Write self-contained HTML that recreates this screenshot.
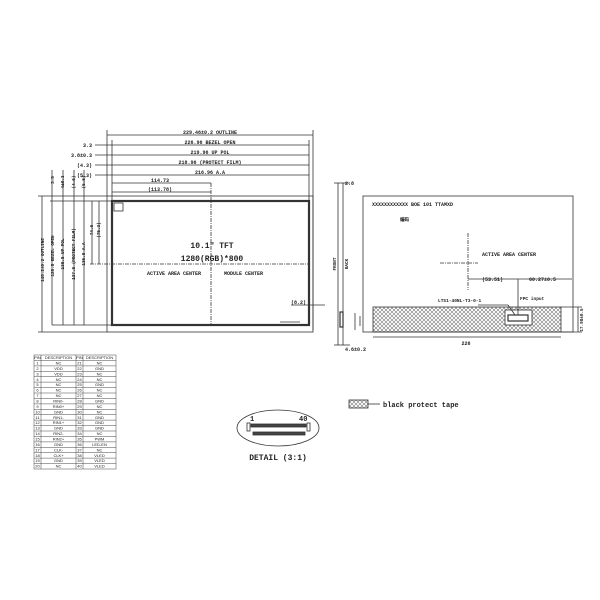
<!DOCTYPE html>
<html><head><style>html,body{margin:0;padding:0;background:#fff}svg{display:block}</style></head>
<body>
<svg width="600" height="600" viewBox="0 0 600 600" xmlns="http://www.w3.org/2000/svg" font-family="Liberation Mono, monospace" font-weight="bold" fill="#222">
<defs>
<pattern id="h" width="4" height="4" patternUnits="userSpaceOnUse"><path d="M0 4L4 0M0 0L4 4" stroke="#777" stroke-width="0.6"/></pattern>
</defs>
<g stroke="#333" fill="none" stroke-width="0.8">
<rect x="107" y="196" width="206" height="136"/>
<rect x="112" y="201" width="197" height="124" stroke-width="2.2"/>
<line x1="211" y1="183" x2="211" y2="325" stroke-dasharray="4 1 1 1"/>
<line x1="90" y1="264" x2="309" y2="264" stroke-dasharray="4 1 1 1"/>
<line x1="107" y1="135" x2="313" y2="135"/><line x1="107" y1="130" x2="107" y2="196"/><line x1="313" y1="130" x2="313" y2="330"/>
<line x1="95" y1="145" x2="309" y2="145"/><line x1="95" y1="155" x2="309" y2="155"/><line x1="95" y1="165" x2="309" y2="165"/><line x1="95" y1="175" x2="309" y2="175"/>
<line x1="112" y1="140" x2="112" y2="201"/><line x1="309" y1="140" x2="309" y2="201"/>
<line x1="112" y1="183" x2="211" y2="183"/><line x1="112" y1="192" x2="211" y2="192"/>
<line x1="38" y1="196" x2="107" y2="196"/><line x1="38" y1="332" x2="107" y2="332"/>
<line x1="42" y1="196" x2="42" y2="332"/><line x1="52" y1="201" x2="52" y2="325"/><line x1="63" y1="201" x2="63" y2="325"/><line x1="74" y1="201" x2="74" y2="325"/><line x1="84" y1="201" x2="84" y2="325"/>
<line x1="52" y1="170" x2="52" y2="201"/><line x1="63" y1="170" x2="63" y2="201"/><line x1="74" y1="170" x2="74" y2="201"/><line x1="84" y1="170" x2="84" y2="201"/>
<line x1="52" y1="325" x2="112" y2="325"/><line x1="50" y1="201" x2="112" y2="201"/>
<line x1="92" y1="201" x2="92" y2="264"/><line x1="99" y1="201" x2="99" y2="264"/>
<line x1="291" y1="305" x2="325" y2="305"/><line x1="280" y1="322" x2="300" y2="322"/>
<line x1="338" y1="183" x2="338" y2="345"/><line x1="343" y1="183" x2="343" y2="345"/>
<line x1="334" y1="183" x2="350" y2="183"/><line x1="334" y1="345" x2="350" y2="345"/>
<rect x="340" y="312" width="3" height="15" stroke-width="1.2"/>
<rect x="363" y="196" width="210" height="136"/>
<rect x="373" y="307" width="188" height="25" fill="url(#h)"/>
<rect x="505" y="310" width="27" height="15" fill="#fff"/>
<rect x="508" y="315" width="20" height="6" stroke-width="1.2"/>
<line x1="468" y1="233" x2="468" y2="290" stroke-dasharray="4 1 1 1"/>
<line x1="440" y1="263" x2="478" y2="263" stroke-dasharray="4 1 1 1"/>
<line x1="468" y1="279" x2="518" y2="279"/><line x1="518" y1="279" x2="572" y2="279"/><line x1="518" y1="279" x2="518" y2="315"/>
<line x1="373" y1="337" x2="561" y2="337"/>
<line x1="578" y1="307" x2="578" y2="332"/><line x1="561" y1="307" x2="582" y2="307"/><line x1="561" y1="332" x2="582" y2="332"/>
<line x1="355" y1="313" x2="355" y2="330"/><line x1="360" y1="316" x2="360" y2="326"/>
<line x1="478" y1="305" x2="508" y2="305"/><line x1="508" y1="305" x2="515" y2="315"/>
<ellipse cx="278" cy="428" rx="41" ry="18"/>
<rect x="247" y="423" width="3" height="8"/><rect x="307" y="423" width="3" height="8"/>
<rect x="251" y="424" width="55" height="3" fill="#444"/>
<rect x="253" y="432" width="52" height="3" fill="#444"/>
<rect x="349" y="400" width="19" height="8" fill="url(#h)"/>
<line x1="368" y1="404" x2="380" y2="404"/>
</g>
<rect x="114" y="203" width="9" height="8" fill="none" stroke="#333" stroke-width="0.8"/>
<g font-size="5">
<text x="210" y="134" text-anchor="middle">229.46±0.2 OUTLINE</text>
<text x="210" y="144" text-anchor="middle">226.96 BEZEL OPEN</text>
<text x="210" y="154" text-anchor="middle">219.96 UP POL</text>
<text x="210" y="164" text-anchor="middle">218.96 (PROTECT FILM)</text>
<text x="210" y="174" text-anchor="middle">216.96 A.A</text>
<text x="160" y="182" text-anchor="middle">114.73</text><text x="160" y="191" text-anchor="middle">(113.78)</text>
<text x="92" y="147" text-anchor="end">3.3</text><text x="92" y="157" text-anchor="end">3.8±0.3</text><text x="92" y="167" text-anchor="end">(4.3)</text><text x="92" y="177" text-anchor="end">(5.3)</text>
<text x="291" y="304">(8.2)</text>
<text x="147" y="275">ACTIVE AREA CENTER</text><text x="224" y="275">MODULE CENTER</text>
<text x="372" y="206">XXXXXXXXXXXX BOE 101 TTAMXD</text>
<text x="400" y="221" font-size="4.5">编码</text>
<text x="482" y="256">ACTIVE AREA CENTER</text>
<text x="482" y="281">(53.51)</text><text x="529" y="281">60.27±0.5</text>
<text x="438" y="302" font-size="4.5">LTS1-40NL-T3-0-1</text><text x="520" y="300" font-size="4.5">FPC input</text>
<text x="466" y="345" text-anchor="middle">226</text>
<text x="345" y="185">2.8</text><text x="345" y="351">4.6±0.2</text>
<text x="383" y="407" font-size="7">black protect tape</text>
<text x="278" y="460" text-anchor="middle" font-size="8">DETAIL (3:1)</text>
<text x="250" y="421" font-size="7">1</text><text x="299" y="421" font-size="7">40</text>
</g>
<g font-size="4.3">
<text transform="translate(44,260) rotate(-90)" text-anchor="middle">148.2±0.2 OUTLINE</text>
<text transform="translate(54,256) rotate(-90)" text-anchor="middle">126.8 BEZEL OPEN</text>
<text transform="translate(64,254) rotate(-90)" text-anchor="middle">138.8 UP POL</text>
<text transform="translate(75,254) rotate(-90)" text-anchor="middle">137.8 (PROTECT FILM)</text>
<text transform="translate(85,254) rotate(-90)" text-anchor="middle">136.8 A.A</text>
<text transform="translate(54,180) rotate(-90)" text-anchor="middle">3.5</text>
<text transform="translate(64,182) rotate(-90)" text-anchor="middle">4±0.3</text>
<text transform="translate(75,182) rotate(-90)" text-anchor="middle">(4.6)</text>
<text transform="translate(85,182) rotate(-90)" text-anchor="middle">(5.6)</text>
<text transform="translate(93,230) rotate(-90)" text-anchor="middle">74.6</text>
<text transform="translate(100,230) rotate(-90)" text-anchor="middle">(75.3)</text>
<text transform="translate(336,264) rotate(-90)" text-anchor="middle">FRONT</text>
<text transform="translate(348,264) rotate(-90)" text-anchor="middle">BACK</text>
<text transform="translate(583,320) rotate(-90)" text-anchor="middle">17.98±0.5</text>
</g>
<text x="212" y="248" font-size="8" text-anchor="middle">10.1" TFT</text>
<text x="212" y="261" font-size="8" text-anchor="middle">1280(RGB)*800</text>
<g stroke="#444" stroke-width="0.5" fill="none">
<rect x="34" y="355" width="82" height="114"/>
<line x1="41" y1="355" x2="41" y2="469"/><line x1="76" y1="355" x2="76" y2="469"/><line x1="83" y1="355" x2="83" y2="469"/>
<path d="M34 360.4H116M34 365.9H116M34 371.3H116M34 376.7H116M34 382.1H116M34 387.6H116M34 393H116M34 398.4H116M34 403.9H116M34 409.3H116M34 414.7H116M34 420.1H116M34 425.6H116M34 431H116M34 436.4H116M34 441.9H116M34 447.3H116M34 452.7H116M34 458.1H116M34 463.6H116"/>
</g>
<g font-size="4" font-weight="normal" text-anchor="middle" font-family="Liberation Sans, sans-serif">
<text x="37.5" y="359">PIN</text><text x="58.5" y="359">DESCRIPTION</text><text x="79.5" y="359">PIN</text><text x="99.5" y="359">DESCRIPTION</text>
<text x="37.5" y="364.5">1</text><text x="58.5" y="364.5">NC</text><text x="79.5" y="364.5">21</text><text x="99.5" y="364.5">NC</text>
<text x="37.5" y="370">2</text><text x="58.5" y="370">VDD</text><text x="79.5" y="370">22</text><text x="99.5" y="370">GND</text>
<text x="37.5" y="375.4">3</text><text x="58.5" y="375.4">VDD</text><text x="79.5" y="375.4">23</text><text x="99.5" y="375.4">NC</text>
<text x="37.5" y="380.8">4</text><text x="58.5" y="380.8">NC</text><text x="79.5" y="380.8">24</text><text x="99.5" y="380.8">NC</text>
<text x="37.5" y="386.2">5</text><text x="58.5" y="386.2">NC</text><text x="79.5" y="386.2">25</text><text x="99.5" y="386.2">GND</text>
<text x="37.5" y="391.7">6</text><text x="58.5" y="391.7">NC</text><text x="79.5" y="391.7">26</text><text x="99.5" y="391.7">NC</text>
<text x="37.5" y="397.1">7</text><text x="58.5" y="397.1">NC</text><text x="79.5" y="397.1">27</text><text x="99.5" y="397.1">NC</text>
<text x="37.5" y="402.5">8</text><text x="58.5" y="402.5">RIN0-</text><text x="79.5" y="402.5">28</text><text x="99.5" y="402.5">GND</text>
<text x="37.5" y="408">9</text><text x="58.5" y="408">RIN0+</text><text x="79.5" y="408">29</text><text x="99.5" y="408">NC</text>
<text x="37.5" y="413.4">10</text><text x="58.5" y="413.4">GND</text><text x="79.5" y="413.4">30</text><text x="99.5" y="413.4">NC</text>
<text x="37.5" y="418.8">11</text><text x="58.5" y="418.8">RIN1-</text><text x="79.5" y="418.8">31</text><text x="99.5" y="418.8">GND</text>
<text x="37.5" y="424.2">12</text><text x="58.5" y="424.2">RIN1+</text><text x="79.5" y="424.2">32</text><text x="99.5" y="424.2">GND</text>
<text x="37.5" y="429.7">13</text><text x="58.5" y="429.7">GND</text><text x="79.5" y="429.7">33</text><text x="99.5" y="429.7">GND</text>
<text x="37.5" y="435.1">14</text><text x="58.5" y="435.1">RIN2-</text><text x="79.5" y="435.1">34</text><text x="99.5" y="435.1">NC</text>
<text x="37.5" y="440.5">15</text><text x="58.5" y="440.5">RIN2+</text><text x="79.5" y="440.5">35</text><text x="99.5" y="440.5">PWM</text>
<text x="37.5" y="446">16</text><text x="58.5" y="446">GND</text><text x="79.5" y="446">36</text><text x="99.5" y="446">LED-EN</text>
<text x="37.5" y="451.4">17</text><text x="58.5" y="451.4">CLK-</text><text x="79.5" y="451.4">37</text><text x="99.5" y="451.4">NC</text>
<text x="37.5" y="456.8">18</text><text x="58.5" y="456.8">CLK+</text><text x="79.5" y="456.8">38</text><text x="99.5" y="456.8">VLED</text>
<text x="37.5" y="462.2">19</text><text x="58.5" y="462.2">GND</text><text x="79.5" y="462.2">39</text><text x="99.5" y="462.2">VLED</text>
<text x="37.5" y="467.7">20</text><text x="58.5" y="467.7">NC</text><text x="79.5" y="467.7">40</text><text x="99.5" y="467.7">VLED</text>
</g>
</svg>
</body></html>
